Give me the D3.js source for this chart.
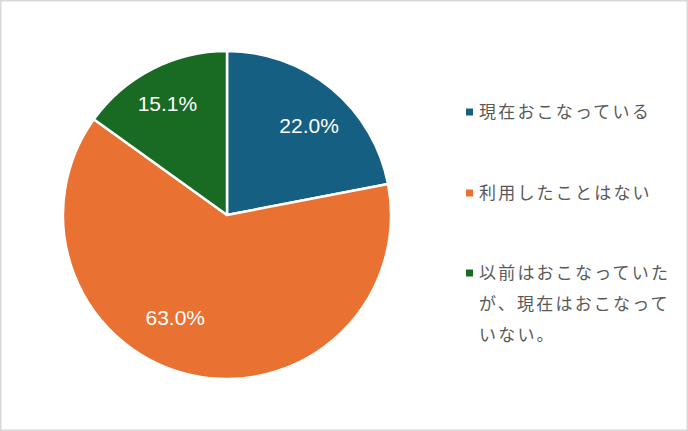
<!DOCTYPE html>
<html>
<head>
<meta charset="utf-8">
<script src="https://cdn.jsdelivr.net/npm/d3@7"></script>
<style>
  html, body { margin: 0; padding: 0; background: #fff; }
  svg { display: block; }
</style>
</head>
<body>
<svg id="chart" width="688" height="431"></svg>
<script>
// データ
var categories = ["現在おこなっている", "利用したことはない", "以前はおこなっていたが、現在はおこなっていない。"];
var values = [22.0, 63.0, 15.1];
var colors = ["#156082", "#e97132", "#196b24"];
// 凡例の折り返し
var legendLines = [["現在おこなっている"], ["利用したことはない"], ["以前はおこなっていた", "が、現在はおこなって", "いない。"]];

var W = 688, H = 431;
var cx = 227, cy = 215, radius = 164;

var svg = d3.select("#chart");

// 枠線
svg.append("rect")
    .attr("x", 0.75).attr("y", 0.75)
    .attr("width", W - 1.5).attr("height", H - 1.5)
    .attr("fill", "#fff")
    .attr("stroke", "#d9d9d9")
    .attr("stroke-width", 1.5);

var pie = d3.pie().sort(null).value(function (d) { return d; });
var arcs = pie(values);

var arc = d3.arc().innerRadius(0).outerRadius(radius);

var g = svg.append("g").attr("transform", "translate(" + cx + "," + cy + ")");

g.selectAll("path.slice")
    .data(arcs)
    .enter()
    .append("path")
    .attr("class", "slice")
    .attr("d", arc)
    .attr("fill", function (d, i) { return colors[i]; })
    .attr("stroke", "#fff")
    .attr("stroke-width", 2.5)
    .attr("stroke-linejoin", "round");

// ラベル位置の微調整（Excel の自動配置に合わせる）
var labelShiftDeg = [3, 14.4, -1];
var labelRadiusK = [0.74, 0.70, 0.77];

g.selectAll("text.pct")
    .data(arcs)
    .enter()
    .append("text")
    .attr("class", "pct")
    .attr("transform", function (d, i) {
        var a = (d.startAngle + d.endAngle) / 2 + labelShiftDeg[i] * Math.PI / 180;
        var r = radius * labelRadiusK[i];
        return "translate(" + (Math.sin(a) * r) + "," + (-Math.cos(a) * r) + ")";
    })
    .attr("text-anchor", "middle")
    .attr("dy", "0.36em")
    .attr("fill", "#fff")
    .style("font-family", "'Liberation Sans', Arial, sans-serif")
    .style("font-size", "21px")
    .text(function (d) { return d.data.toFixed(1) + "%"; });

// 凡例
var legendX = 466, legendY = [112, 193, 273], lineGap = 31;

var legend = svg.append("g");
var items = legend.selectAll("g.item")
    .data(categories)
    .enter()
    .append("g")
    .attr("class", "item")
    .attr("transform", function (d, i) { return "translate(" + legendX + "," + legendY[i] + ")"; });

items.append("rect")
    .attr("x", 0).attr("y", -3.5)
    .attr("width", 7).attr("height", 7)
    .attr("fill", function (d, i) { return colors[i]; });

items.each(function (d, i) {
    var t = d3.select(this).append("text")
        .attr("fill", "#595959")
        .style("font-family", "'Noto Sans CJK JP', sans-serif")
        .style("font-size", "17px")
        .style("letter-spacing", "2.2px");
    legendLines[i].forEach(function (line, k) {
        t.append("tspan")
            .attr("x", 13)
            .attr("y", k * lineGap)
            .attr("dy", "0.36em")
            .text(line);
    });
});
</script>
</body>
</html>
